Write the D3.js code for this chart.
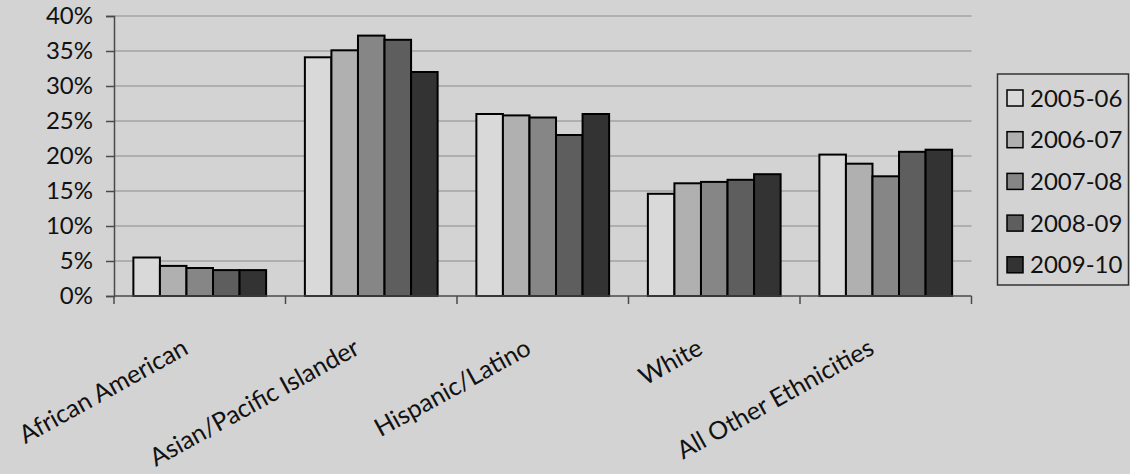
<!DOCTYPE html>
<html>
<head>
<meta charset="utf-8">
<script src="https://cdn.jsdelivr.net/npm/d3@7"></script>
<style>
  html, body { margin: 0; padding: 0; background: #d3d3d3; }
  svg { display: block; }
  text { font-family: Lato, "Noto Sans", sans-serif; fill: #111; }
</style>
</head>
<body>
<svg id="chart" width="1130" height="474"></svg>
<script>
// Categories, school years and the share (percent) for each year
const categories = ["African American", "Asian/Pacific Islander", "Hispanic/Latino", "White", "All Other Ethnicities"];
const years = ["2005-06", "2006-07", "2007-08", "2008-09", "2009-10"];
const v2005_06 = [5.5, 34.1, 26.0, 14.6, 20.2];
const v2006_07 = [4.3, 35.1, 25.8, 16.1, 18.9];
const v2007_08 = [4.0, 37.2, 25.5, 16.3, 17.1];
const v2008_09 = [3.7, 36.6, 23.0, 16.6, 20.6];
const v2009_10 = [3.7, 32.0, 26.0, 17.4, 20.9];
const seriesValues = [v2005_06, v2006_07, v2007_08, v2008_09, v2009_10];
const yTicks = [0, 5, 10, 15, 20, 25, 30, 35, 40];
const fills = ["#d9d9d9", "#b0b0b0", "#868686", "#5e5e5e", "#333333"];

const svg = d3.select("#chart");
const plot = { left: 114, right: 971.5, top: 16, bottom: 296 };

const x0 = d3.scaleBand().domain(categories).range([plot.left, plot.right]).padding(0);
const x1 = d3.scaleBand().domain(years).range([0, x0.bandwidth()]).paddingInner(0).paddingOuter(0.73);
const y = d3.scaleLinear().domain([0, 40]).range([plot.bottom, plot.top]);

// horizontal gridlines
svg.append("g")
  .selectAll("line")
  .data(yTicks.filter(d => d > 0))
  .join("line")
  .attr("x1", plot.left).attr("x2", plot.right)
  .attr("y1", d => y(d)).attr("y2", d => y(d))
  .attr("stroke", "#a3a3a3").attr("stroke-width", 1.5);

// bars
const groups = svg.append("g")
  .selectAll("g")
  .data(categories)
  .join("g")
  .attr("transform", d => `translate(${x0(d)},0)`);

groups.selectAll("rect")
  .data((c, ci) => years.map((yr, si) => ({ yr, si, v: seriesValues[si][ci] })))
  .join("rect")
  .attr("x", d => x1(d.yr))
  .attr("width", x1.bandwidth())
  .attr("y", d => y(d.v))
  .attr("height", d => y(0) - y(d.v))
  .attr("fill", d => fills[d.si])
  .attr("stroke", "#000")
  .attr("stroke-width", 2);

// y axis
const yAxis = d3.axisLeft(y).tickValues(yTicks).tickSize(8).tickPadding(13)
  .tickFormat(d => d + "%");
const ya = svg.append("g").attr("transform", `translate(${plot.left},0)`).call(yAxis);
ya.select(".domain").attr("stroke", "#4a4a4a").attr("stroke-width", 1.5);
ya.selectAll(".tick line").attr("stroke", "#4a4a4a").attr("stroke-width", 1.5);
ya.selectAll(".tick text").style("font-size", "24px").attr("fill", "#111");

// x axis line with category boundary ticks
svg.append("line")
  .attr("x1", plot.left).attr("x2", plot.right)
  .attr("y1", plot.bottom).attr("y2", plot.bottom)
  .attr("stroke", "#4a4a4a").attr("stroke-width", 1.5);
const bounds = categories.map(c => x0(c)).concat([plot.right]);
svg.append("g").selectAll("line")
  .data(bounds)
  .join("line")
  .attr("x1", d => d).attr("x2", d => d)
  .attr("y1", plot.bottom).attr("y2", plot.bottom + 8)
  .attr("stroke", "#4a4a4a").attr("stroke-width", 1.5);

// rotated category labels
svg.append("g").selectAll("text")
  .data(categories)
  .join("text")
  .attr("transform", d => `translate(${x0(d) + x0.bandwidth() / 2 - 10},353) rotate(-29)`)
  .attr("text-anchor", "end")
  .style("font-size", "25px")
  .text(d => d);

// legend
const lg = svg.append("g");
lg.append("rect")
  .attr("x", 997.5).attr("y", 74).attr("width", 131).attr("height", 211)
  .attr("fill", "none").attr("stroke", "#333").attr("stroke-width", 1.5);
const items = lg.selectAll("g.item")
  .data(years)
  .join("g")
  .attr("class", "item")
  .attr("transform", (d, i) => `translate(1007,${98 + i * 41.7})`);
items.append("rect")
  .attr("x", 0).attr("y", -8).attr("width", 16).attr("height", 16)
  .attr("fill", (d, i) => fills[i]).attr("stroke", "#000").attr("stroke-width", 1.5);
items.append("text")
  .attr("x", 23).attr("dy", "0.36em")
  .style("font-size", "24px")
  .text(d => d);
</script>
</body>
</html>
